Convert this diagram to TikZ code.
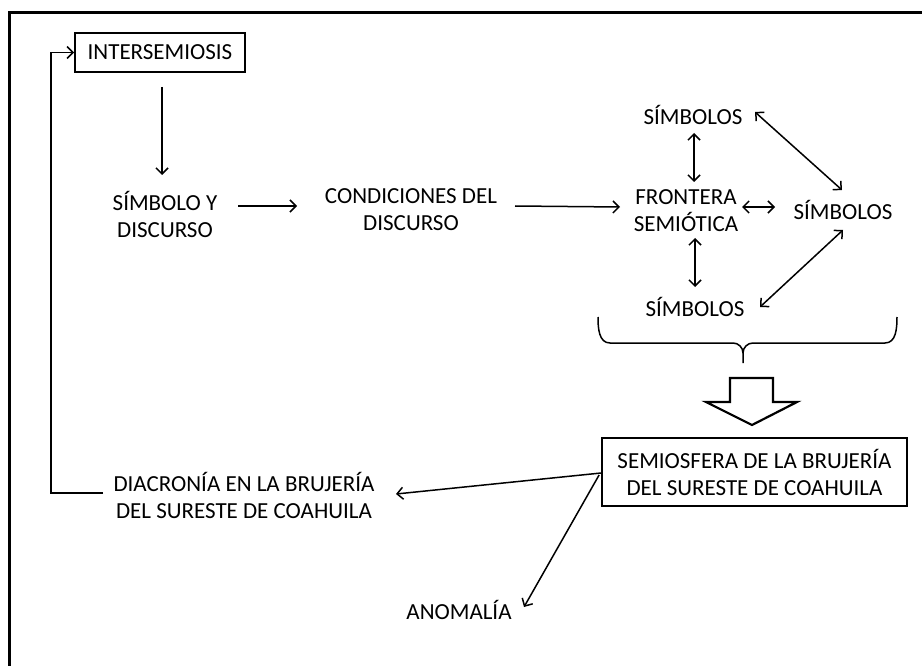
\documentclass[tikz,border=0pt]{standalone}
\usepackage{fontspec}
\setmainfont{Carlito}
\usetikzlibrary{arrows.meta,calc}
\tikzset{
  txt/.style={inner sep=0pt, align=center, font=\fontsize{23}{27}\selectfont},
  boxed/.style={draw, line width=1.8pt, inner sep=0pt, align=center, font=\fontsize{23}{27}\selectfont},
  conn/.style={line width=1.5pt, -{Straight Barb[length=6pt,width=12pt]}},
  dconn/.style={line width=1.5pt, {Straight Barb[length=6pt,width=12pt]}-{Straight Barb[length=6pt,width=12pt]}},
  plain/.style={line width=1.5pt}
}
\begin{document}
\begin{tikzpicture}[x=1pt,y=-1pt]
\useasboundingbox (0,0) rectangle (922,666);
% outer frame (cropped)
\draw[line width=3pt] (9.5,667) -- (9.5,12.5) -- (923,12.5);

\node[boxed, minimum width=170pt, minimum height=39pt] (intr) at (160,52.5) {INTERSEMIOSIS};
\node[txt] (simb) at (165,214) {SÍMBOLO Y\\DISCURSO};
\node[txt] (cond) at (411,210) {CONDICIONES DEL\\DISCURSO};
\node[txt] (front) at (686,211) {FRONTERA\\SEMIÓTICA};
\node[txt] (s1) at (693,114.5) {SÍMBOLOS};
\node[txt] (s2) at (843,210) {SÍMBOLOS};
\node[txt] (s3) at (695,306.5) {SÍMBOLOS};
\node[boxed, minimum width=305pt, minimum height=68pt] (semi) at (754.5,472) {SEMIOSFERA DE LA BRUJERÍA\\DEL SURESTE DE COAHUILA};
\node[txt] (diac) at (244,495) {DIACRONÍA EN LA BRUJERÍA\\DEL SURESTE DE COAHUILA};
\node[txt] (anom) at (459,609.5) {ANOMALÍA};

% connectors
\draw[conn] ($(intr.south)+(2,14)$) -- ($(simb.center)+(-3,-39)$);
\draw[conn] ($(simb.center)+(73,-8)$) -- ($(cond.center)+(-114,-4)$);
\draw[conn] ($(cond.center)+(104,-4)$) -- ($(front.center)+(-66,-4)$);
\draw[dconn] ($(s1.center)+(1,18.5)$) -- ($(front.center)+(8,-29)$);
\draw[dconn] ($(front.center)+(56,-4)$) -- ($(s2.center)+(-68,-3)$);
\draw[dconn] ($(front.center)+(9,27)$) -- ($(s3.center)+(0,-19.5)$);
\draw[dconn] ($(s1.center)+(62,-2.5)$) -- ($(s2.center)+(-1,-20)$);
\draw[dconn] ($(s2.center)+(0,20)$) -- ($(s3.center)+(65,0.5)$);
\draw[conn] ($(semi.west)+(0,1)$) -- ($(diac.center)+(152,-1)$);
\draw[conn] ($(semi.west)+(-2,3)$) -- ($(anom.center)+(65,-2.5)$);
\draw[conn] ($(diac.center)+(-141,-2)$) -| ($(intr.west)+(-23,0)$) -- (intr.west);

% brace
\draw[plain] (598,317) to[out=-90,in=180] (610,343) -- (733,343)
  to[out=0,in=90] (743,353) -- (743,363);
\draw[plain] (743,353) to[out=90,in=180] (753,343) -- (885,343)
  to[out=0,in=-90] (897,317);

% hollow block arrow
\draw[line width=2.2pt, line join=miter] (730,378) -- (773,378) -- (773,402) -- (797,402)
  -- (752,425) -- (706,402) -- (730,402) -- cycle;
\end{tikzpicture}
\end{document}
